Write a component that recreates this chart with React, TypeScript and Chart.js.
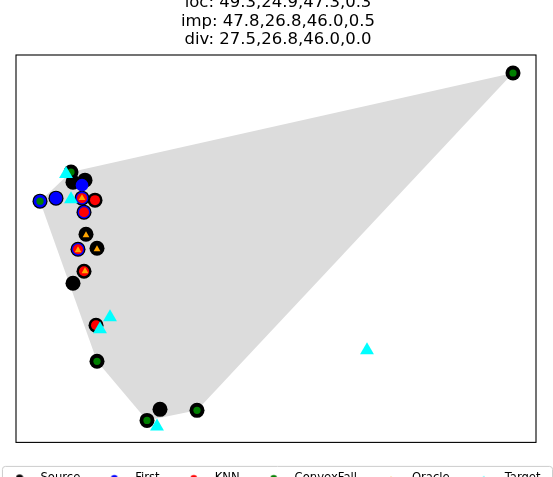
import React, { useEffect, useRef } from 'react';
import { Chart, registerables } from 'chart.js';

Chart.register(...registerables);

const titleLines = [
  'loc: 49.3,24.9,47.3,0.3',
  'imp: 47.8,26.8,46.0,0.5',
  'div: 27.5,26.8,46.0,0.0',
];

const seriesNames = ['Source', 'First', 'KNN', 'ConvexFall', 'Oracle', 'Target'];

const sourceX = [497, 55, 57, 69, 24, 40, 66, 79, 68, 70, 62, 81, 68, 57, 80, 81, 144, 131, 181];
const sourceY = [369, 270, 260, 262, 241, 244, 244, 242, 230, 208, 193, 194, 171, 159, 117, 81, 33, 22, 32];

const firstX = [66, 24, 40, 66, 68, 62];
const firstY = [257, 241, 244, 244, 230, 193];

const knnX = [66, 79, 68, 62, 68, 80];
const knnY = [244, 242, 230, 193, 171, 117];

const convexX = [497, 55, 24, 81, 131, 181];
const convexY = [369, 270, 241, 81, 22, 32];

const oracleX = [66, 70, 62, 81, 69];
const oracleY = [244, 207, 192, 193, 171];

const targetX = [50, 55, 84, 94, 141, 351];
const targetY = [268, 243, 113, 125, 16, 92];

const X_MIN = 0;
const X_MAX = 520;
const Y_MIN = 0;
const Y_MAX = 387;

const pts = (xs: number[], ys: number[]) => xs.map((x, i) => ({ x, y: ys[i] }));

function makeMarker(color: string, shape: 'circle' | 'triangle', size: number) {
  const c = document.createElement('canvas');
  c.width = 19;
  c.height = 12;
  const g = c.getContext('2d')!;
  g.fillStyle = color;
  const cx = 4;
  const cy = 6;
  g.beginPath();
  if (shape === 'circle') {
    g.arc(cx, cy, size, 0, Math.PI * 2);
  } else {
    g.moveTo(cx, cy - size);
    g.lineTo(cx + size, cy + size);
    g.lineTo(cx - size, cy + size);
    g.closePath();
  }
  g.fill();
  return c;
}

const framePlugin = {
  id: 'frames',
  afterDraw(chart: any) {
    const { ctx, chartArea: a } = chart;
    ctx.save();
    ctx.strokeStyle = '#000';
    ctx.lineWidth = 1.1;
    ctx.strokeRect(a.left, a.top, a.right - a.left, a.bottom - a.top);
    const lg = chart.legend;
    const hb = lg && lg.legendHitBoxes;
    if (hb && hb.length) {
      const l = hb[0].left - 13;
      const last = hb[hb.length - 1];
      const r = last.left + last.width + 12;
      const t = a.bottom + 24;
      const b = t + 60;
      const rad = 3;
      ctx.strokeStyle = '#cccccc';
      ctx.lineWidth = 1;
      ctx.beginPath();
      ctx.moveTo(l + rad, t);
      ctx.lineTo(r - rad, t);
      ctx.quadraticCurveTo(r, t, r, t + rad);
      ctx.lineTo(r, b);
      ctx.moveTo(l, b);
      ctx.lineTo(l, t + rad);
      ctx.quadraticCurveTo(l, t, l + rad, t);
      ctx.stroke();
    }
    ctx.restore();
  },
};

export default function App() {
  const ref = useRef<HTMLCanvasElement | null>(null);

  useEffect(() => {
    if (!ref.current) return;
    const markers = [
      makeMarker('#000000', 'circle', 3.7),
      makeMarker('#0000ff', 'circle', 3.3),
      makeMarker('#ff0000', 'circle', 3.3),
      makeMarker('#008000', 'circle', 3.3),
      makeMarker('#ffa500', 'triangle', 2),
      makeMarker('#00ffff', 'triangle', 2.5),
    ];
    const colors = ['#000000', '#0000ff', '#ff0000', '#008000', '#ffa500', '#00ffff'];
    const radii = [7.5, 6.3, 5, 3.6, 3.9, 8];
    const styles = ['circle', 'circle', 'circle', 'circle', 'triangle', 'triangle'];
    const series = [
      pts(sourceX, sourceY),
      pts(firstX, firstY),
      pts(knnX, knnY),
      pts(convexX, convexY),
      pts(oracleX, oracleY),
      pts(targetX, targetY),
    ];
    const datasets: any[] = series.map((data, i) => ({
      label: seriesNames[i],
      data,
      backgroundColor: colors[i],
      borderColor: colors[i],
      borderWidth: 0,
      pointRadius: radii[i],
      pointHoverRadius: radii[i],
      pointStyle: styles[i],
      pointBorderWidth: 0,
      order: 6 - i,
    }));
    datasets.push({
      label: 'hull',
      data: pts(convexX, convexY),
      showLine: true,
      fill: 'shape',
      backgroundColor: '#dcdcdc',
      borderColor: 'rgba(0,0,0,0)',
      borderWidth: 0,
      pointRadius: 0,
      pointHoverRadius: 0,
      tension: 0,
      order: 10,
    });

    const chart = new Chart(ref.current, {
      type: 'scatter',
      data: { datasets },
      options: {
        animation: false,
        responsive: false,
        events: [],
        layout: { padding: 0 },
        plugins: {
          title: {
            display: true,
            text: titleLines,
            color: '#000',
            font: { family: 'DejaVu Sans', size: 16.5, weight: 'normal', lineHeight: '18.4px' },
            padding: { top: 0, bottom: 5.8 },
          },
          legend: {
            display: true,
            position: 'bottom',
            align: 'center',
            labels: {
              usePointStyle: true,
              pointStyleWidth: 19.2,
              padding: 30,
              color: '#000',
              font: { family: 'DejaVu Sans', size: 11.6 },
              generateLabels: (ch: any) => {
                const base = (Chart as any).defaults.plugins.legend.labels.generateLabels(ch);
                return base.map((it: any) => ({
                  ...it,
                  pointStyle: markers[it.datasetIndex] || it.pointStyle,
                }));
              },
              filter: (item: any) => item.datasetIndex < 6,
              sort: (a: any, b: any) => a.datasetIndex - b.datasetIndex,
            },
          },
          tooltip: { enabled: false },
        },
        scales: {
          x: { type: 'linear', min: X_MIN, max: X_MAX, display: false },
          y: {
            type: 'linear',
            min: Y_MIN,
            max: Y_MAX,
            position: 'left',
            grid: { display: false },
            ticks: { display: false },
            border: { display: false },
            afterFit: (s: any) => {
              s.width = 39;
            },
          },
          y2: {
            type: 'linear',
            position: 'right',
            grid: { display: false },
            ticks: { display: false },
            border: { display: false },
            afterFit: (s: any) => {
              s.width = 43;
            },
          },
        },
      } as any,
      plugins: [framePlugin],
    });
    return () => chart.destroy();
  }, []);

  return (
    <div
      style={{
        position: 'fixed',
        left: 0,
        top: 0,
        width: 553,
        height: 477,
        overflow: 'hidden',
        background: '#fff',
      }}
    >
      <canvas
        ref={ref}
        width={602}
        height={500}
        style={{ position: 'absolute', left: -23, top: -6, width: 602, height: 500 }}
      />
    </div>
  );
}
